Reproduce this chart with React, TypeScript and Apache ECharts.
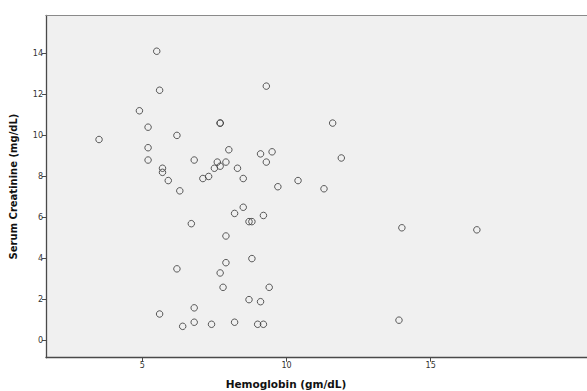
import React, { useEffect, useRef } from "react";
import * as echarts from "echarts";

const hemoglobin: number[] = [
  5.5, 5.6, 9.3, 4.9, 5.2, 7.7, 7.7, 11.6, 3.5, 6.2, 5.2, 5.2, 5.7, 5.7, 5.9, 6.3,
  6.8, 7.1, 7.3, 7.5, 7.6, 7.7, 7.9, 8.0, 8.3, 8.5, 9.1, 9.5, 9.3, 9.7, 10.4, 11.3,
  11.9, 8.5, 8.2, 8.7, 8.8, 9.2, 6.7, 7.9, 14.0, 16.6, 8.8, 7.9, 6.2, 7.7, 7.8, 9.4,
  8.7, 9.1, 6.8, 5.6, 6.4, 6.8, 7.4, 8.2, 9.0, 9.2, 13.9,
];
const creatinine: number[] = [
  14.1, 12.2, 12.4, 11.2, 10.4, 10.6, 10.6, 10.6, 9.8, 10.0, 9.4, 8.8, 8.4, 8.2, 7.8, 7.3,
  8.8, 7.9, 8.0, 8.4, 8.7, 8.5, 8.7, 9.3, 8.4, 7.9, 9.1, 9.2, 8.7, 7.5, 7.8, 7.4,
  8.9, 6.5, 6.2, 5.8, 5.8, 6.1, 5.7, 5.1, 5.5, 5.4, 4.0, 3.8, 3.5, 3.3, 2.6, 2.6,
  2.0, 1.9, 1.6, 1.3, 0.7, 0.9, 0.8, 0.9, 0.8, 0.8, 1.0,
];
const xTicks: number[] = [5, 10, 15];
const yTicks: number[] = [0, 2, 4, 6, 8, 10, 12, 14];
const xTitle = "Hemoglobin (gm/dL)";
const yTitle = "Serum Creatinine (mg/dL)";

export default function App() {
  const ref = useRef<HTMLDivElement>(null);
  useEffect(() => {
    if (!ref.current) return;
    const chart = echarts.init(ref.current, undefined, { renderer: "svg" });
    const data = hemoglobin.map((h, i) => [h, creatinine[i]]);
    const axisColor = "#4a4a4a";
    const labelStyle = { color: "#333", fontFamily: "DejaVu Sans", fontSize: 8 };
    const xMin = 1.661;
    const xMax = 20.87;
    chart.setOption({
      animation: false,
      backgroundColor: "#ffffff",
      grid: {
        left: 46,
        top: 15.3,
        right: 0,
        bottom: 33.3,
        show: true,
        backgroundColor: "#f0f0f0",
        borderWidth: 0,
        borderColor: "transparent",
      },
      xAxis: [
        {
          type: "value",
          min: xMin,
          max: xMax,
          splitLine: { show: false },
          axisLine: { show: true, onZero: false, lineStyle: { color: axisColor, width: 1.3 } },
          axisTick: { show: true, length: 4, customValues: xTicks, lineStyle: { color: axisColor } },
          axisLabel: { ...labelStyle, margin: 4, customValues: xTicks },
        },
        {
          type: "value",
          position: "top",
          min: xMin,
          max: xMax,
          splitLine: { show: false },
          axisLine: { show: true, onZero: false, lineStyle: { color: "#8a8a8a", width: 1.2 } },
          axisTick: { show: false },
          axisLabel: { show: false },
        },
      ],
      yAxis: {
        type: "value",
        min: -0.828,
        max: 15.85,
        name: yTitle,
        nameLocation: "middle",
        nameGap: 28,
        nameTextStyle: { color: "#111", fontFamily: "DejaVu Sans", fontWeight: "bold", fontSize: 10 },
        splitLine: { show: false },
        axisLine: { show: true, onZero: false, lineStyle: { color: axisColor, width: 1.3 } },
        axisTick: { show: true, length: 4, customValues: yTicks, lineStyle: { color: axisColor } },
        axisLabel: { ...labelStyle, margin: 3, customValues: yTicks },
      },
      graphic: [
        {
          type: "text",
          x: 286,
          y: 384,
          style: {
            text: xTitle,
            fill: "#111",
            font: "bold 10.5px 'DejaVu Sans'",
            textAlign: "center",
            textVerticalAlign: "middle",
          },
        },
      ],
      series: [
        {
          type: "scatter",
          xAxisIndex: 0,
          data,
          symbol: "circle",
          symbolSize: 6.5,
          itemStyle: { color: "rgba(0,0,0,0)", borderColor: "#333", borderWidth: 1 },
        },
      ],
    });
    return () => chart.dispose();
  }, []);
  return (
    <div
      ref={ref}
      style={{ position: "fixed", left: 0, top: 0, width: 600, height: 391 }}
    />
  );
}
